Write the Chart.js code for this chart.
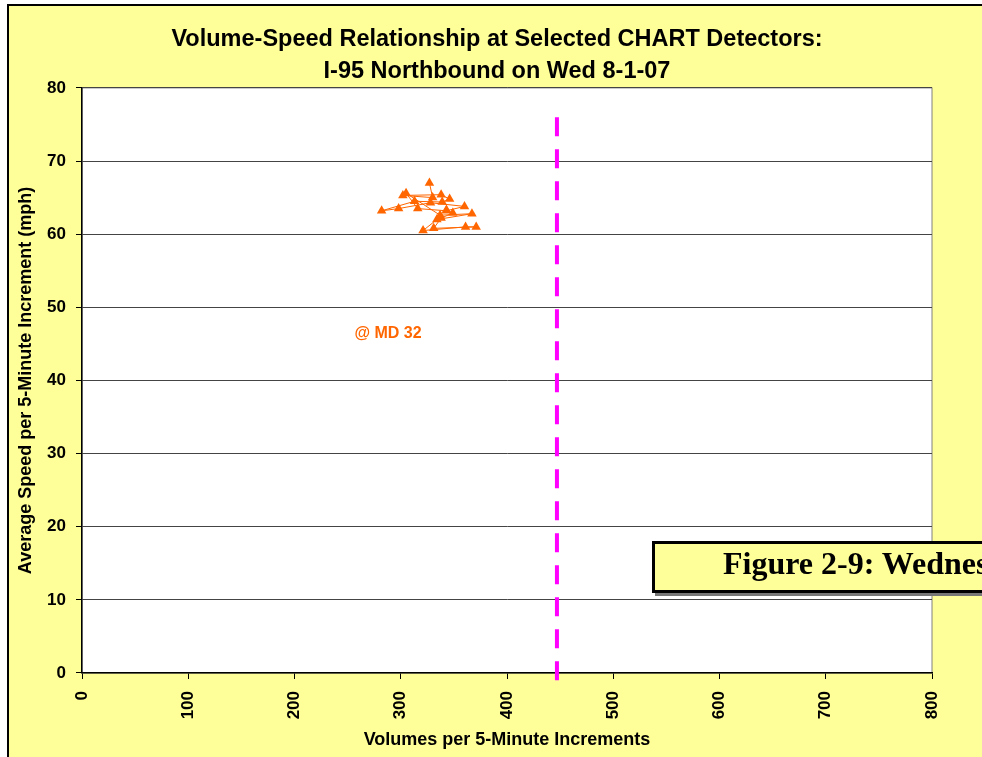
<!DOCTYPE html>
<html>
<head>
<meta charset="utf-8">
<script src="https://cdn.jsdelivr.net/npm/chart.js@4"></script>
<style>
  html, body { margin: 0; padding: 0; width: 982px; height: 757px; overflow: hidden; background: #fff; }
  #frame {
    position: absolute; left: 7px; top: 4px; width: 1100px; height: 900px;
    background: #FFFF99; border-left: 2px solid #000; border-top: 2px solid #000;
  }
  #wrap { position: absolute; left: 0; top: 0; width: 982px; height: 757px; }
  #figLabel {
    position: absolute; left: 652px; top: 541px; width: 600px; height: 46px;
    background: #FFFF99; border: 3px solid #000; box-shadow: 3px 3px 0 #777;
    font: bold 32px "Liberation Serif", "Times New Roman", serif; line-height: 38px;
    padding-left: 68px; white-space: nowrap; color: #000;
  }
</style>
</head>
<body>
<div id="frame"></div>
<div id="wrap"><canvas id="myChart" width="982" height="757"></canvas></div>
<div id="figLabel">Figure 2-9: Wednesday</div>
<script>
// volume (veh per 5 min) and speed (mph) at MD 32, in time order
const volumes = [327, 330, 302, 338, 346, 339, 313, 282, 298, 328, 360, 343, 316, 305, 337, 367, 334, 321, 361, 371, 331, 338, 349, 343];
const speeds = [67.0, 65.0, 65.3, 65.4, 64.8, 64.4, 64.5, 63.2, 63.5, 64.3, 63.8, 63.2, 63.5, 65.6, 62.6, 62.8, 62.0, 60.5, 61.0, 61.0, 60.8, 62.2, 62.9, 63.3];

// capacity marker
const capacityVolume = 447;
const capacitySpeeds = [76, -2];

const xTicks = [0, 100, 200, 300, 400, 500, 600, 700, 800];
const yTicks = [0, 10, 20, 30, 40, 50, 60, 70, 80];

const seriesLabel = "@ MD 32";
const seriesLabelAt = { x: 288, y: 46.4 };

const orange = "#FF6600";
const magenta = "#FF00FF";
const fontFamily = "Liberation Sans, Arial, sans-serif";
const tickFont = { family: fontFamily, size: 17, weight: "bold" };
const axisTitleFont = { family: fontFamily, size: 18, weight: "bold" };

const points = volumes.map((v, i) => ({ x: v, y: speeds[i] }));
const capacityLine = capacitySpeeds.map((s) => ({ x: capacityVolume, y: s }));

const plotBackground = {
    id: "plotBackground",
    beforeDraw(chart) {
        const { ctx, chartArea: a } = chart;
        ctx.save();
        ctx.fillStyle = "#fff";
        ctx.fillRect(a.left, a.top, a.right - a.left, a.bottom - a.top);
        ctx.strokeStyle = "#808080";
        ctx.lineWidth = 1;
        ctx.strokeRect(a.left, a.top, a.right - a.left, a.bottom - a.top);
        ctx.restore();
    },
    afterDatasetsDraw(chart) {
        const { ctx, scales } = chart;
        ctx.save();
        ctx.fillStyle = orange;
        ctx.font = "bold 16px " + fontFamily;
        ctx.textAlign = "center";
        ctx.textBaseline = "middle";
        ctx.fillText(seriesLabel, scales.x.getPixelForValue(seriesLabelAt.x), scales.y.getPixelForValue(seriesLabelAt.y));
        ctx.restore();
    }
};

const config = {
    type: "scatter",
    data: {
        datasets: [{
            label: seriesLabel,
            data: points,
            showLine: true,
            borderColor: orange,
            borderWidth: 1,
            backgroundColor: orange,
            pointStyle: "triangle",
            pointRadius: 5.5,
            pointBorderWidth: 0,
            pointBackgroundColor: orange
        }, {
            label: "capacity",
            data: capacityLine,
            showLine: true,
            borderColor: magenta,
            borderWidth: 4,
            borderDash: [19, 13],
            pointRadius: 0,
            clip: false
        }]
    },
    options: {
        responsive: false,
        animation: false,
        layout: { padding: { left: 12, right: 0, top: 0, bottom: 0 } },
        plugins: {
            legend: { display: false },
            tooltip: { enabled: false },
            title: {
                display: true,
                text: ["Volume-Speed Relationship at Selected CHART Detectors:", "I-95 Northbound on Wed 8-1-07"],
                color: "#000",
                font: { family: fontFamily, size: 23.5, weight: "bold", lineHeight: 1.36 },
                padding: { top: 24, bottom: 0 }
            }
        },
        scales: {
            x: {
                type: "linear",
                min: 0,
                max: 800,
                afterBuildTicks: (s) => { s.ticks = xTicks.map((v) => ({ value: v })); },
                afterFit: (s) => { s.height = 84; },
                ticks: { color: "#000", font: tickFont, minRotation: 90, maxRotation: 90, padding: 12 },
                grid: { drawOnChartArea: false, drawTicks: true, tickLength: 6, tickColor: "#000" },
                border: { color: "#000", width: 1.5 },
                title: {
                    display: true,
                    text: "Volumes per 5-Minute Increments",
                    color: "#000",
                    font: axisTitleFont,
                    padding: { top: 0, bottom: 6 }
                }
            },
            y: {
                min: 0,
                max: 80,
                afterBuildTicks: (s) => { s.ticks = yTicks.map((v) => ({ value: v })); },
                afterFit: (s) => { s.width = 70; },
                ticks: { color: "#000", font: tickFont, padding: 10 },
                grid: { color: "#444", lineWidth: 1, tickLength: 6, tickColor: "#000" },
                border: { color: "#000", width: 1.5 },
                title: {
                    display: true,
                    text: "Average Speed per 5-Minute Increment (mph)",
                    color: "#000",
                    font: axisTitleFont,
                    padding: { top: 3, bottom: 0 }
                }
            },
            // empty strip on the right of the plot, keeps the title centred on the whole frame
            yRight: {
                position: "right",
                min: 0,
                max: 80,
                afterFit: (s) => { s.width = 50; },
                ticks: { display: false },
                grid: { display: false },
                border: { display: false }
            }
        }
    },
    plugins: [plotBackground]
};

const myGraph = new Chart(document.getElementById("myChart"), config);
</script>
</body>
</html>
